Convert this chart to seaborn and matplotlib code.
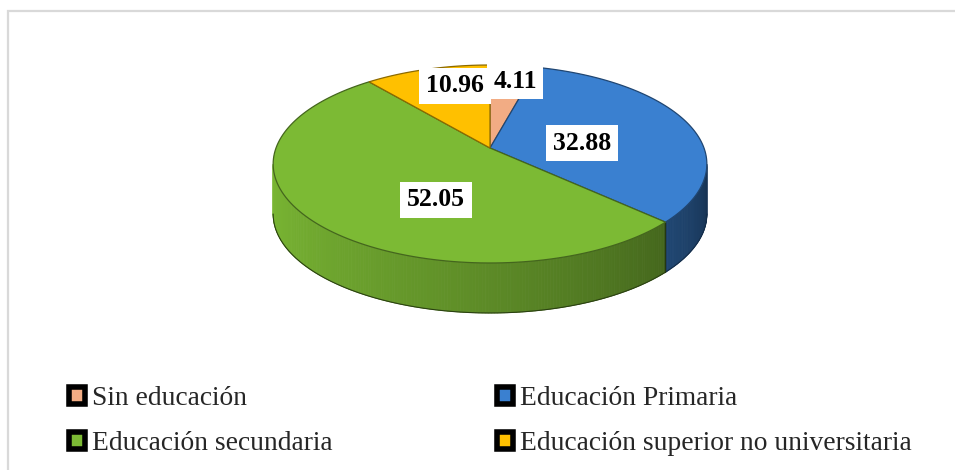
import numpy as np
import matplotlib
matplotlib.use("Agg")
import matplotlib.pyplot as plt
import seaborn as sns
from matplotlib.patches import Polygon, Patch, Rectangle
from matplotlib.colors import to_rgb

# ---------------- data ----------------
categories = ["Sin educación", "Educación Primaria",
              "Educación secundaria", "Educación superior no universitaria"]
values = [4.11, 32.88, 52.05, 10.96]
value_labels = ["4.11", "32.88", "52.05", "10.96"]
colors = ["#F2AC84", "#3A80D0", "#7CBA34", "#FFC000"]

# ---------------- style ----------------
sns.set_theme(style="white")
plt.rcParams["font.family"] = ["Liberation Serif", "DejaVu Serif"]

W, H = 955, 470
fig = plt.figure(figsize=(W / 100, H / 100), dpi=100)
ax = fig.add_axes([0, 0, 1, 1])
ax.set_xlim(0, W)
ax.set_ylim(H, 0)
ax.axis("off")

# light frame of the chart area
fig.patches.append(Rectangle((8 / W, -0.1), 1.2, (H - 11) / H + 0.1,
                             transform=fig.transFigure, fill=False,
                             edgecolor="#d9d9d9", linewidth=1.6, zorder=0))

# ---------------- 3D pie geometry (perspective projection) ----------------
CX, CY = 490, 148      # apex of the pie on screen
RX, RY = 214, 96.4     # horizontal / vertical scale
K = 0.1616             # perspective factor
DEPTH = 50             # thickness of the pie in pixels


def proj(X, Y, dz=0.0):
    d = 1 + K * Y
    return CX + RX * X / d, CY - RY * Y / d + dz


def shade(c, f):
    r, g, b = to_rgb(c)
    return (r * f, g * f, b * f)


total = float(np.sum(values))
bounds = 90 - 360 * np.concatenate([[0], np.cumsum(values)]) / total  # clockwise from 12 o'clock

vis_lo = 180 + np.degrees(np.arcsin(K))
vis_hi = 360 - np.degrees(np.arcsin(K))


def side_factor(t):
    frac = (t - vis_lo) / (vis_hi - vis_lo)
    return 0.98 - 0.58 * frac ** 1.3

# ---- side walls ----
for i, col in enumerate(colors):
    hi, lo = bounds[i], bounds[i + 1]
    for kshift in (-360, 0, 360):
        a = max(lo, vis_lo + kshift)
        b = min(hi, vis_hi + kshift)
        if b <= a:
            continue
        ts = np.linspace(a, b, max(int((b - a) / 0.7), 2))
        for t0, t1 in zip(ts[:-1], ts[1:]):
            r0, r1 = np.radians(t0), np.radians(t1)
            p0 = proj(np.cos(r0), np.sin(r0))
            p1 = proj(np.cos(r1), np.sin(r1))
            q1 = proj(np.cos(r1), np.sin(r1), DEPTH)
            q0 = proj(np.cos(r0), np.sin(r0), DEPTH)
            fc = shade(col, side_factor(0.5 * (t0 + t1) - kshift))
            ax.add_patch(Polygon([p0, p1, q1, q0], closed=True, facecolor=fc,
                                 edgecolor=fc, linewidth=0.6, zorder=2))
        # bottom outline of the side
        rr = np.radians(ts)
        bx, by = proj(np.cos(rr), np.sin(rr), DEPTH)
        ax.plot(bx, by, color=shade(col, 0.35), linewidth=0.8, zorder=3)
        # vertical seams at boundaries inside the visible range
        for t in (a, b):
            r = np.radians(t)
            if abs(t - (vis_lo + kshift)) < 1e-6 or abs(t - (vis_hi + kshift)) < 1e-6:
                continue
            x0, y0 = proj(np.cos(r), np.sin(r))
            x1, y1 = proj(np.cos(r), np.sin(r), DEPTH)
            ax.plot([x0, x1], [y0, y1], color=shade(col, 0.3), linewidth=0.9, zorder=3)

# ---- top face ----
for i, col in enumerate(colors):
    hi, lo = bounds[i], bounds[i + 1]
    ts = np.radians(np.linspace(hi, lo, 120))
    xs, ys = proj(np.cos(ts), np.sin(ts))
    pts = [(CX, CY)] + list(zip(xs, ys))
    ax.add_patch(Polygon(pts, closed=True, facecolor=col,
                         edgecolor=shade(col, 0.55), linewidth=0.9, zorder=4))

# ---------------- value labels ----------------
label_pos = {"4.11": (515, 81), "10.96": (455, 86),
             "32.88": (582, 143), "52.05": (436, 200)}
for lab in value_labels:
    x, y = label_pos[lab]
    ax.text(x, y, lab, ha="center", va="center", fontsize=18.5, fontweight="bold",
            color="black", zorder=6,
            bbox=dict(boxstyle="square,pad=0.26", facecolor="white", edgecolor="none"))

# ---------------- legend ----------------
handles = [Patch(facecolor=c, edgecolor="black", linewidth=4.0, joinstyle="round")
           for c in colors]
leg_kw = dict(frameon=False, fontsize=19.8, handlelength=0.58, handleheight=0.58,
              handletextpad=0.25, labelspacing=0.74, borderpad=0, borderaxespad=0,
              loc="upper left")
leg1 = fig.legend([handles[0], handles[2]], [categories[0], categories[2]],
                  bbox_to_anchor=(69 / W, 1 - 386 / H), **leg_kw)
leg2 = fig.legend([handles[1], handles[3]], [categories[1], categories[3]],
                  bbox_to_anchor=(497 / W, 1 - 386 / H), **leg_kw)

fig.savefig("out.png", dpi=100)
